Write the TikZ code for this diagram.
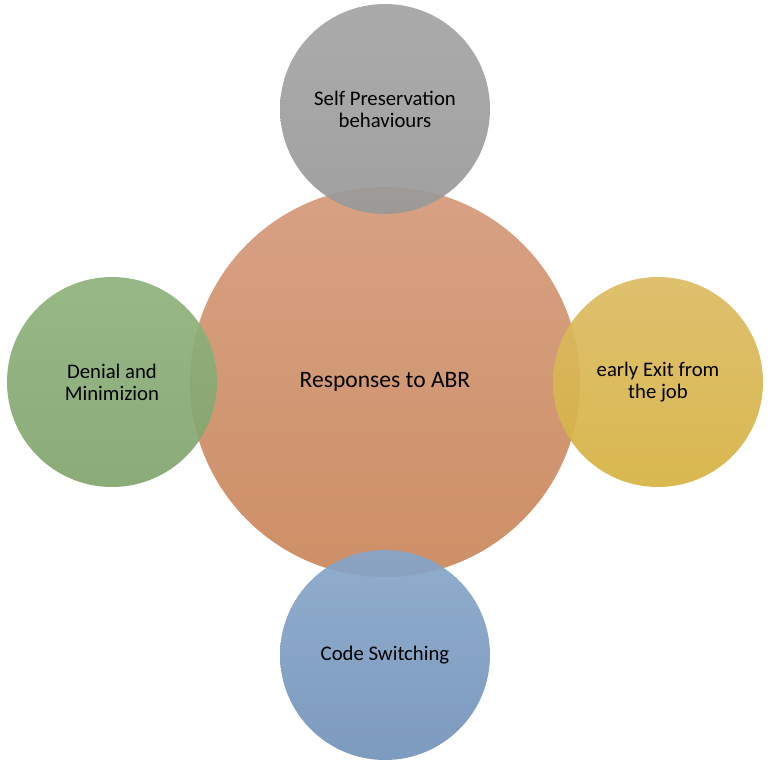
\documentclass[tikz,border=0pt]{standalone}
\usepackage{fontspec}
\setmainfont{Carlito}
\usepackage{tikz}
\usetikzlibrary{shapes.geometric, positioning}

\definecolor{abrtop}{HTML}{D59A7B}
\definecolor{abrbot}{HTML}{C9875A}
\definecolor{greytop}{HTML}{A4A4A4}
\definecolor{greybot}{HTML}{9A9A9A}
\definecolor{greentop}{HTML}{90B27D}
\definecolor{greenbot}{HTML}{82A56E}
\definecolor{yellowtop}{HTML}{DBBB63}
\definecolor{yellowbot}{HTML}{D6B342}
\definecolor{bluetop}{HTML}{88A7CA}
\definecolor{bluebot}{HTML}{7393BA}

\begin{document}
\begin{tikzpicture}[
    node distance=-0.54cm,
    bubble/.style={circle, draw=none, outer sep=0pt, inner sep=0pt, align=center, fill opacity=0.93, text opacity=1},
    hub/.style={bubble, minimum size=7.8cm, top color=abrtop, bottom color=abrbot, font=\fontsize{13.4}{16}\selectfont},
    sat/.style={bubble, minimum size=4.2cm, font=\fontsize{11.8}{12.4}\selectfont},
    grey/.style={sat, top color=greytop, bottom color=greybot},
    green/.style={sat, top color=greentop, bottom color=greenbot},
    yellow/.style={sat, top color=yellowtop, bottom color=yellowbot},
    blue/.style={sat, top color=bluetop, bottom color=bluebot}
]
\useasboundingbox (-7.70,-7.78) rectangle (7.72,7.64);
\node[hub] (abr) {Responses to ABR};
\node[grey, above=of abr] (self) {Self Preservation\\behaviours};
\node[green, left=of abr] (denial) {Denial and\\Minimizion};
\node[yellow, right=of abr] (exit) {early Exit from\\the job};
\node[blue, below=of abr] (code) {Code Switching};
\end{tikzpicture}
\end{document}
